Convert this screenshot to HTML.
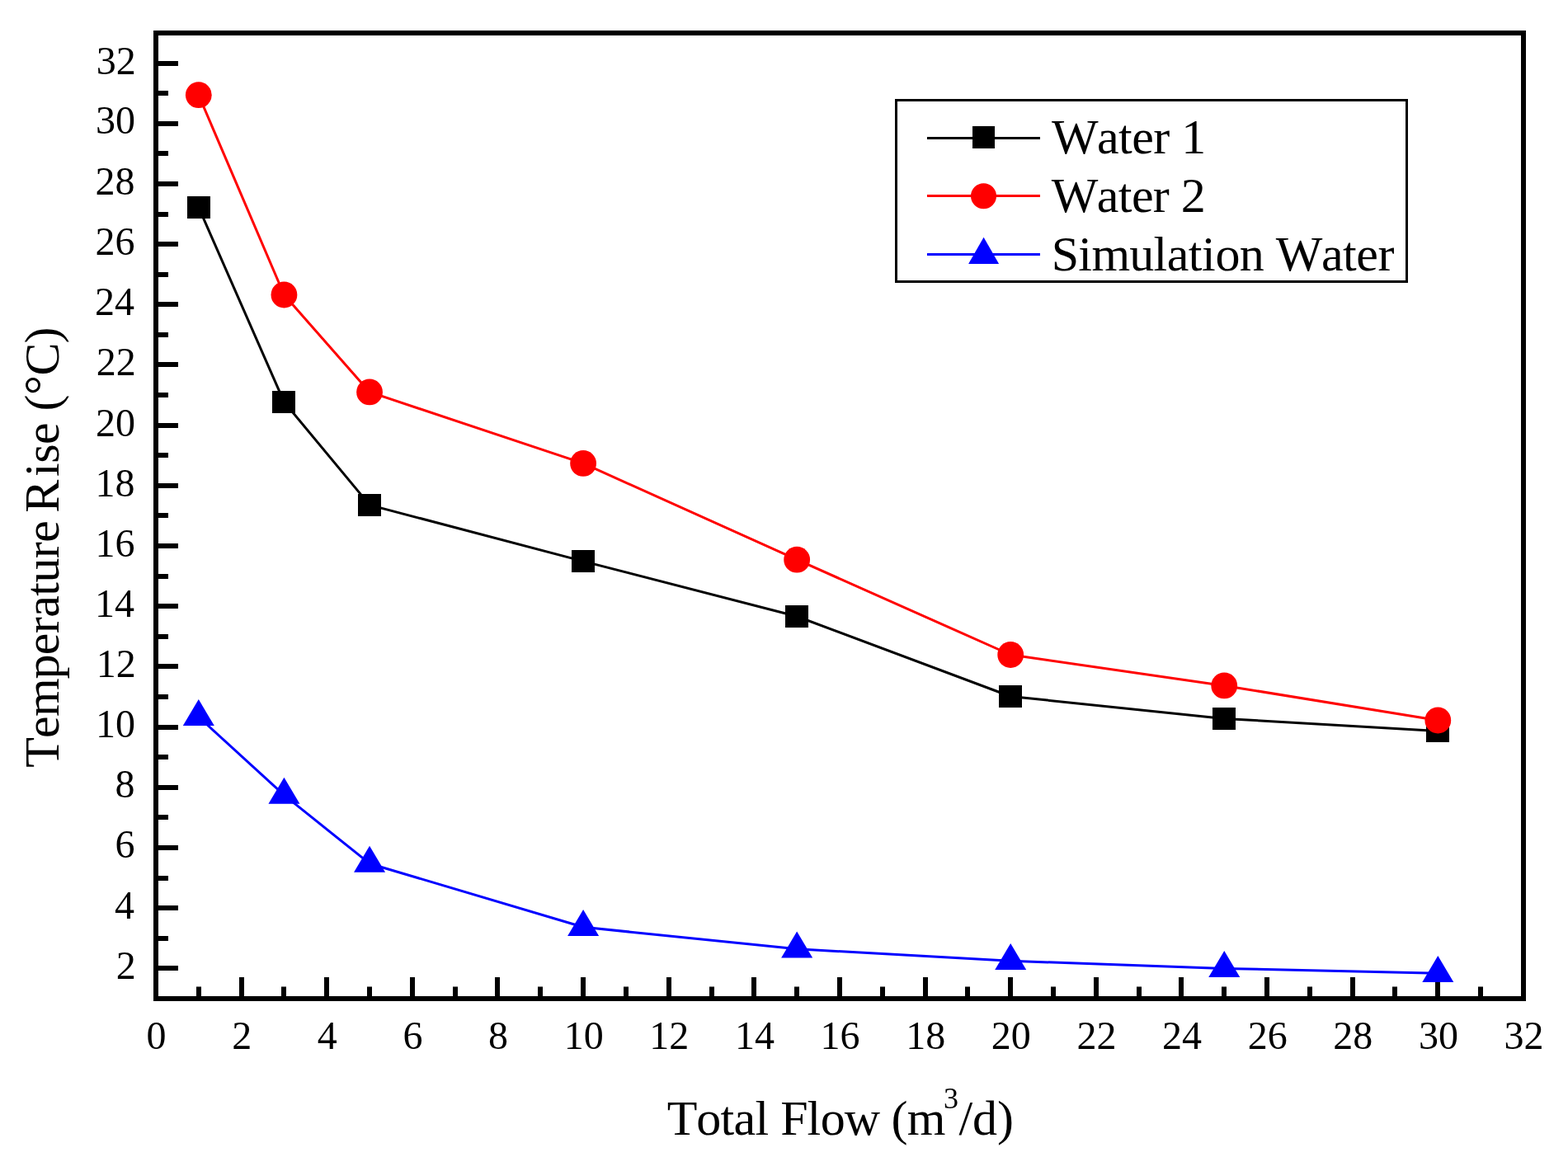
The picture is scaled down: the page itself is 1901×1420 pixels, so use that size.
<!DOCTYPE html><html><head><meta charset="utf-8"><title>Temperature Rise vs Total Flow</title>
<style>html,body{margin:0;padding:0;background:#fff;overflow:hidden}svg{display:block}text{font-family:"Liberation Serif","Times New Roman",serif;fill:#000;font-kerning:none}</style></head><body>
<svg width="1901" height="1420" viewBox="0 0 1901 1420">
<rect width="1901" height="1420" fill="#fff"/>
<path d="M186,1174H216 M186,1138H204 M186,1101H216 M186,1065H204 M186,1028H216 M186,991H204 M186,955H216 M186,918H204 M186,882H216 M186,845H204 M186,808H216 M186,772H204 M186,735H216 M186,699H204 M186,662H216 M186,625H204 M186,589H216 M186,552H204 M186,516H216 M186,479H204 M186,442H216 M186,406H204 M186,369H216 M186,333H204 M186,296H216 M186,260H204 M186,223H216 M186,186H204 M186,150H216 M186,113H204 M186,77H216 M241,1214V1196.5 M293,1214V1185 M344,1214V1196.5 M396,1214V1185 M448,1214V1196.5 M500,1214V1185 M552,1214V1196.5 M603,1214V1185 M655,1214V1196.5 M707,1214V1185 M759,1214V1196.5 M811,1214V1185 M863,1214V1196.5 M914,1214V1185 M966,1214V1196.5 M1018,1214V1185 M1070,1214V1196.5 M1122,1214V1185 M1173,1214V1196.5 M1225,1214V1185 M1277,1214V1196.5 M1329,1214V1185 M1381,1214V1196.5 M1432,1214V1185 M1484,1214V1196.5 M1536,1214V1185 M1588,1214V1196.5 M1640,1214V1185 M1691,1214V1196.5 M1743,1214V1185 M1795,1214V1196.5" stroke="#000" stroke-width="6" fill="none"/>
<rect x="189" y="40" width="1658" height="1171" fill="none" stroke="#000" stroke-width="6"/>
<text x="164.8" y="1187" font-size="48" text-anchor="end">2</text>
<text x="162.9" y="1114" font-size="48" text-anchor="end">4</text>
<text x="163.6" y="1040" font-size="48" text-anchor="end">6</text>
<text x="163.5" y="967" font-size="48" text-anchor="end">8</text>
<text x="164.0" y="894" font-size="48" text-anchor="end">10</text>
<text x="164.8" y="821" font-size="48" text-anchor="end">12</text>
<text x="162.9" y="748" font-size="48" text-anchor="end">14</text>
<text x="163.6" y="675" font-size="48" text-anchor="end">16</text>
<text x="163.5" y="602" font-size="48" text-anchor="end">18</text>
<text x="164.0" y="529" font-size="48" text-anchor="end">20</text>
<text x="164.8" y="455" font-size="48" text-anchor="end">22</text>
<text x="162.9" y="382" font-size="48" text-anchor="end">24</text>
<text x="163.6" y="309" font-size="48" text-anchor="end">26</text>
<text x="163.5" y="236" font-size="48" text-anchor="end">28</text>
<text x="164.0" y="162" font-size="48" text-anchor="end">30</text>
<text x="164.8" y="90" font-size="48" text-anchor="end">32</text>
<text x="189.6" y="1272" font-size="48" text-anchor="middle">0</text>
<text x="293.2" y="1272" font-size="48" text-anchor="middle">2</text>
<text x="396.8" y="1272" font-size="48" text-anchor="middle">4</text>
<text x="500.5" y="1272" font-size="48" text-anchor="middle">6</text>
<text x="604.1" y="1272" font-size="48" text-anchor="middle">8</text>
<text x="707.7" y="1272" font-size="48" text-anchor="middle">10</text>
<text x="811.3" y="1272" font-size="48" text-anchor="middle">12</text>
<text x="914.9" y="1272" font-size="48" text-anchor="middle">14</text>
<text x="1018.6" y="1272" font-size="48" text-anchor="middle">16</text>
<text x="1122.2" y="1272" font-size="48" text-anchor="middle">18</text>
<text x="1225.8" y="1272" font-size="48" text-anchor="middle">20</text>
<text x="1329.4" y="1272" font-size="48" text-anchor="middle">22</text>
<text x="1433.0" y="1272" font-size="48" text-anchor="middle">24</text>
<text x="1536.7" y="1272" font-size="48" text-anchor="middle">26</text>
<text x="1640.3" y="1272" font-size="48" text-anchor="middle">28</text>
<text x="1743.9" y="1272" font-size="48" text-anchor="middle">30</text>
<text x="1847.5" y="1272" font-size="48" text-anchor="middle">32</text>
<text x="808.7 844.3 873.4 889.6 915.4 931.6 946.2 978.5 994.7 1023.8 1065.9 1080.4 1099.8" y="1376.1" font-size="60">Total Flow (m</text>
<text x="1144.1" y="1343.9" font-size="36">3</text>
<text x="1162.5 1179.1 1209.0" y="1376.1" font-size="60">/d)</text>
<g transform="translate(71.1,0) rotate(-90)"><text x="-930.7 -895.0 -869.0 -823.5 -794.2 -768.2 -748.7 -722.7 -706.5 -677.2 -657.7 -631.7 -621.7 -578.1 -561.8 -539.0 -513.0 -498.4 -478.9 -455.5 -416.5" y="0" font-size="60">Temperature Rise (°C)</text></g>
<polyline points="240.8,251.4 344.4,487.4 448.1,612.4 707.1,680.6 966.2,747.5 1225.2,844.5 1484.2,871.4 1743.3,886.4" fill="none" stroke="#000" stroke-width="3.0" stroke-linejoin="round"/>
<rect x="227" y="238" width="28" height="27" fill="#000"/><rect x="330" y="474" width="28" height="27" fill="#000"/><rect x="434" y="599" width="28" height="27" fill="#000"/><rect x="693" y="667" width="28" height="27" fill="#000"/><rect x="952" y="734" width="28" height="27" fill="#000"/><rect x="1211" y="831" width="28" height="27" fill="#000"/><rect x="1470" y="858" width="28" height="27" fill="#000"/><rect x="1729" y="873" width="28" height="27" fill="#000"/>
<polyline points="240.8,115.2 344.4,357.5 448.1,475.4 707.1,561.9 966.2,678.7 1225.2,794.0 1484.2,831.4 1743.3,873.5" fill="none" stroke="#f00" stroke-width="3.0" stroke-linejoin="round"/>
<circle cx="240.81" cy="115.20" r="15.9" fill="#f00"/><circle cx="344.43" cy="357.50" r="15.9" fill="#f00"/><circle cx="448.05" cy="475.40" r="15.9" fill="#f00"/><circle cx="707.10" cy="561.90" r="15.9" fill="#f00"/><circle cx="966.15" cy="678.70" r="15.9" fill="#f00"/><circle cx="1225.20" cy="794.00" r="15.9" fill="#f00"/><circle cx="1484.25" cy="831.40" r="15.9" fill="#f00"/><circle cx="1743.30" cy="873.50" r="15.9" fill="#f00"/>
<polyline points="240.8,869.4 344.4,964.2 448.1,1047.2 707.1,1124.3 966.2,1150.8 1225.2,1165.3 1484.2,1174.4 1743.3,1180.3" fill="none" stroke="#00f" stroke-width="3.0" stroke-linejoin="round"/>
<polygon points="240.81,848.07 221.81,880.07 259.81,880.07" fill="#00f"/><polygon points="344.43,942.87 325.43,974.87 363.43,974.87" fill="#00f"/><polygon points="448.05,1025.87 429.05,1057.87 467.05,1057.87" fill="#00f"/><polygon points="707.10,1102.97 688.10,1134.97 726.10,1134.97" fill="#00f"/><polygon points="966.15,1129.47 947.15,1161.47 985.15,1161.47" fill="#00f"/><polygon points="1225.20,1143.97 1206.20,1175.97 1244.20,1175.97" fill="#00f"/><polygon points="1484.25,1153.07 1465.25,1185.07 1503.25,1185.07" fill="#00f"/><polygon points="1743.30,1158.97 1724.30,1190.97 1762.30,1190.97" fill="#00f"/>
<rect x="1086.5" y="121.5" width="619" height="220" fill="#fff" stroke="#000" stroke-width="3"/>
<line x1="1124" y1="167.5" x2="1261" y2="167.5" stroke="#000" stroke-width="3"/>
<line x1="1124" y1="237.5" x2="1261" y2="237.5" stroke="#f00" stroke-width="3"/>
<line x1="1124" y1="308.5" x2="1261" y2="308.5" stroke="#00f" stroke-width="3"/>
<rect x="1179" y="153" width="27" height="27" fill="#000"/>
<circle cx="1192.50" cy="237.80" r="15.5" fill="#f00"/>
<polygon points="1192.60,287.80 1174.10,319.90 1211.10,319.90" fill="#00f"/>
<text x="1275.0 1330.1 1356.1 1372.3 1398.3 1417.7 1432.3" y="186" font-size="60">Water 1</text>
<text x="1274.7 1329.8 1355.7 1371.9 1397.8 1417.2 1431.8" y="257" font-size="60">Water 2</text>
<text x="1274.7 1307.3 1323.6 1369.2 1398.5 1414.8 1440.8 1457.1 1473.4 1502.7 1532.0 1546.7 1602.0 1628.0 1644.3 1670.4" y="328" font-size="60">Simulation Water</text>
</svg></body></html>
